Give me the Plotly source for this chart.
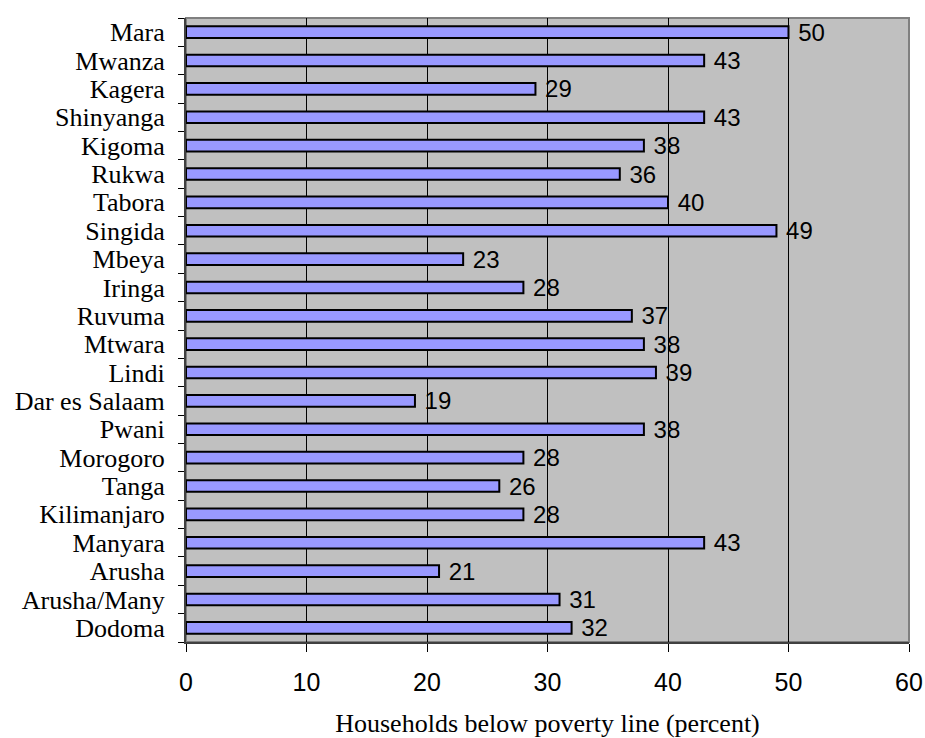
import plotly.graph_objects as go

# Regions listed bottom to top (as plotted on the category axis)
regions = ["Dodoma", "Arusha/Many", "Arusha", "Manyara", "Kilimanjaro", "Tanga",
           "Morogoro", "Pwani", "Dar es Salaam", "Lindi", "Mtwara", "Ruvuma",
           "Iringa", "Mbeya", "Singida", "Tabora", "Rukwa", "Kigoma",
           "Shinyanga", "Kagera", "Mwanza", "Mara"]
poverty_pct = [32, 31, 21, 43, 28, 26, 28, 38, 19, 39, 38, 37,
               28, 23, 49, 40, 36, 38, 43, 29, 43, 50]
x_ticks = [0, 10, 20, 30, 40, 50, 60]

SANS = "Liberation Sans, Arial"
SERIF = "Liberation Serif, Times New Roman"

fig = go.Figure(go.Bar(
    y=regions,
    x=poverty_pct,
    orientation="h",
    marker=dict(color="#9999FF", line=dict(color="black", width=2)),
    text=[" " + str(v) for v in poverty_pct],
    textposition="outside",
    constraintext="none",
    textfont=dict(family=SANS, size=24, color="black"),
    cliponaxis=False,
))

fig.update_layout(
    width=925, height=738,
    margin=dict(l=186, r=16, t=18, b=96, autoexpand=False),
    paper_bgcolor="white",
    plot_bgcolor="#C0C0C0",
    bargap=0.59,
    showlegend=False,
    xaxis=dict(
        range=[0, 60],
        tickvals=x_ticks,
        automargin=False,
        ticks="outside", ticklen=8, tickcolor="black",
        ticklabelstandoff=9,
        tickfont=dict(family=SANS, size=25, color="black"),
        showgrid=True, gridcolor="black", gridwidth=1,
        showline=True, linecolor="#404040", linewidth=2,
        zeroline=False,
        title=dict(text="Households below poverty line (percent)",
                   font=dict(family=SERIF, size=26, color="black"),
                   standoff=20),
    ),
    yaxis=dict(
        type="category",
        automargin=False,
        tickmode="linear", tick0=0, dtick=1,
        tickson="boundaries",
        ticks="outside", ticklen=6, tickcolor="black",
        ticklabelstandoff=14,
        tickfont=dict(family=SERIF, size=26, color="black"),
        showline=True, linecolor="#404040", linewidth=2,
        showgrid=False,
        range=[-0.5, len(regions) - 0.5],
    ),
    shapes=[dict(type="rect", xref="paper", yref="paper", x0=0, x1=1, y0=0, y1=1,
                 line=dict(color="#808080", width=2), layer="below")],
)

fig.write_html("out.html")
